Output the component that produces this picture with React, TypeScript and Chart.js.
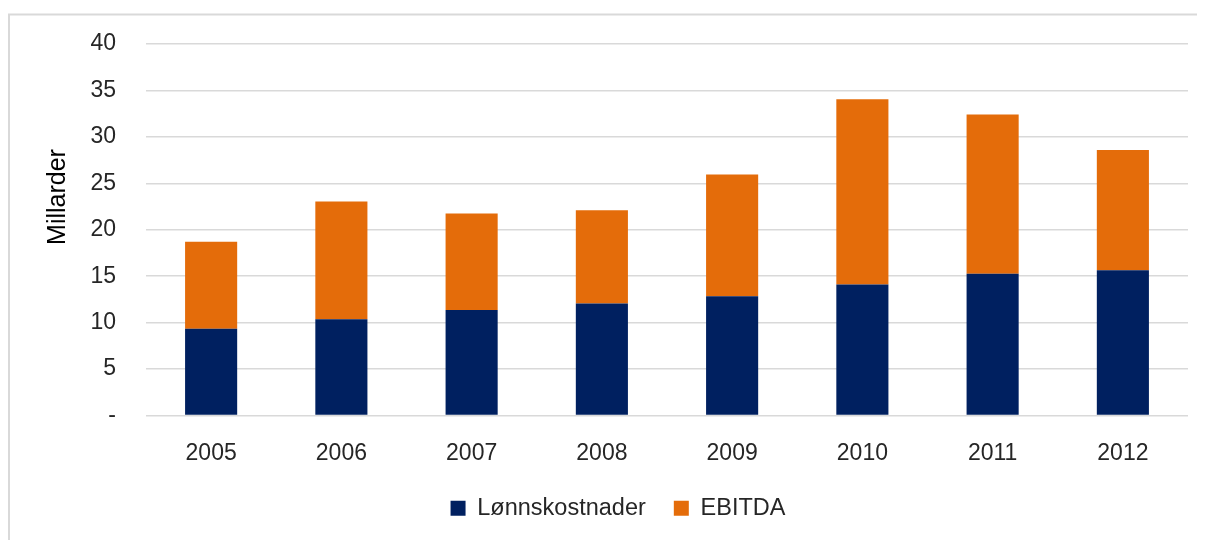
import React, { useEffect, useRef } from "react";
import { Chart, registerables } from "chart.js";

Chart.register(...registerables);

const years = ["2005", "2006", "2007", "2008", "2009", "2010", "2011", "2012"];
const lonnskostnader = [9.35, 10.35, 11.35, 12.05, 12.85, 14.1, 15.25, 15.65];
const ebitda = [9.35, 12.7, 10.4, 10.05, 13.1, 19.95, 17.15, 12.95];
const yTicks = [0, 5, 10, 15, 20, 25, 30, 35, 40];
const yTitle = "Millarder";

const FONT = "'Liberation Sans', Arial, sans-serif";

const framePlugin = {
  id: "frame",
  beforeDraw(chart: any) {
    const ctx = chart.ctx;
    ctx.save();
    ctx.strokeStyle = "#d9d9d9";
    ctx.lineWidth = 2;
    ctx.beginPath();
    ctx.moveTo(1, chart.height + 10);
    ctx.lineTo(1, 6.5);
    ctx.lineTo(chart.width + 10, 6.5);
    ctx.stroke();
    ctx.restore();
  },
  afterDraw(chart: any) {
    const ctx = chart.ctx;
    ctx.save();
    ctx.fillStyle = "#000000";
    ctx.font = `25px ${FONT}`;
    ctx.textAlign = "center";
    ctx.textBaseline = "middle";
    ctx.translate(50, 189);
    ctx.rotate(-Math.PI / 2);
    ctx.fillText(yTitle, 0, 0);
    ctx.restore();
  },
};

export default function App() {
  const ref = useRef<HTMLCanvasElement | null>(null);
  useEffect(() => {
    if (!ref.current) return;
    const chart = new Chart(ref.current, {
      type: "bar",
      data: {
        labels: years,
        datasets: [
          {
            label: "Lønnskostnader",
            data: lonnskostnader,
            backgroundColor: "#002060",
            borderWidth: 0,
            barPercentage: 0.5,
            categoryPercentage: 0.8,
          },
          {
            label: "EBITDA",
            data: ebitda,
            backgroundColor: "#E46C0A",
            borderWidth: 0,
            barPercentage: 0.5,
            categoryPercentage: 0.8,
          },
        ],
      },
      options: {
        animation: false,
        responsive: true,
        maintainAspectRatio: false,
        layout: { padding: { left: 40, right: 17, top: 36, bottom: 10 } },
        scales: {
          x: {
            stacked: true,
            grid: { display: false },
            border: { display: false },
            ticks: { color: "#262626", font: { family: FONT, size: 23 }, padding: 16 },
            afterFit: (s: any) => {
              s.height = 53;
            },
          },
          y: {
            stacked: true,
            min: 0,
            max: 40,
            afterBuildTicks: (s: any) => {
              s.ticks = yTicks.map((v) => ({ value: v }));
            },
            grid: { color: "#d9d9d9", lineWidth: 1.5, drawTicks: false },
            border: { display: false },
            ticks: {
              color: "#262626",
              font: { family: FONT, size: 23 },
              padding: 30,
              callback: (v: any) => (Number(v) === 0 ? "-" : String(v)),
            },
            afterFit: (s: any) => {
              s.width = 98;
              s.paddingTop = 0;
              s.paddingBottom = 0;
            },
          },
        },
        plugins: {
          legend: {
            position: "bottom",
            labels: {
              color: "#262626",
              font: { family: FONT, size: 23.5 },
              boxWidth: 15,
              boxHeight: 15,
              padding: 28,
            },
          },
          tooltip: { enabled: false },
        },
      },
      plugins: [framePlugin],
    });
    return () => chart.destroy();
  }, []);
  return (
    <div style={{ width: 1197, height: 532, position: "relative" }}>
      <canvas ref={ref} />
    </div>
  );
}
